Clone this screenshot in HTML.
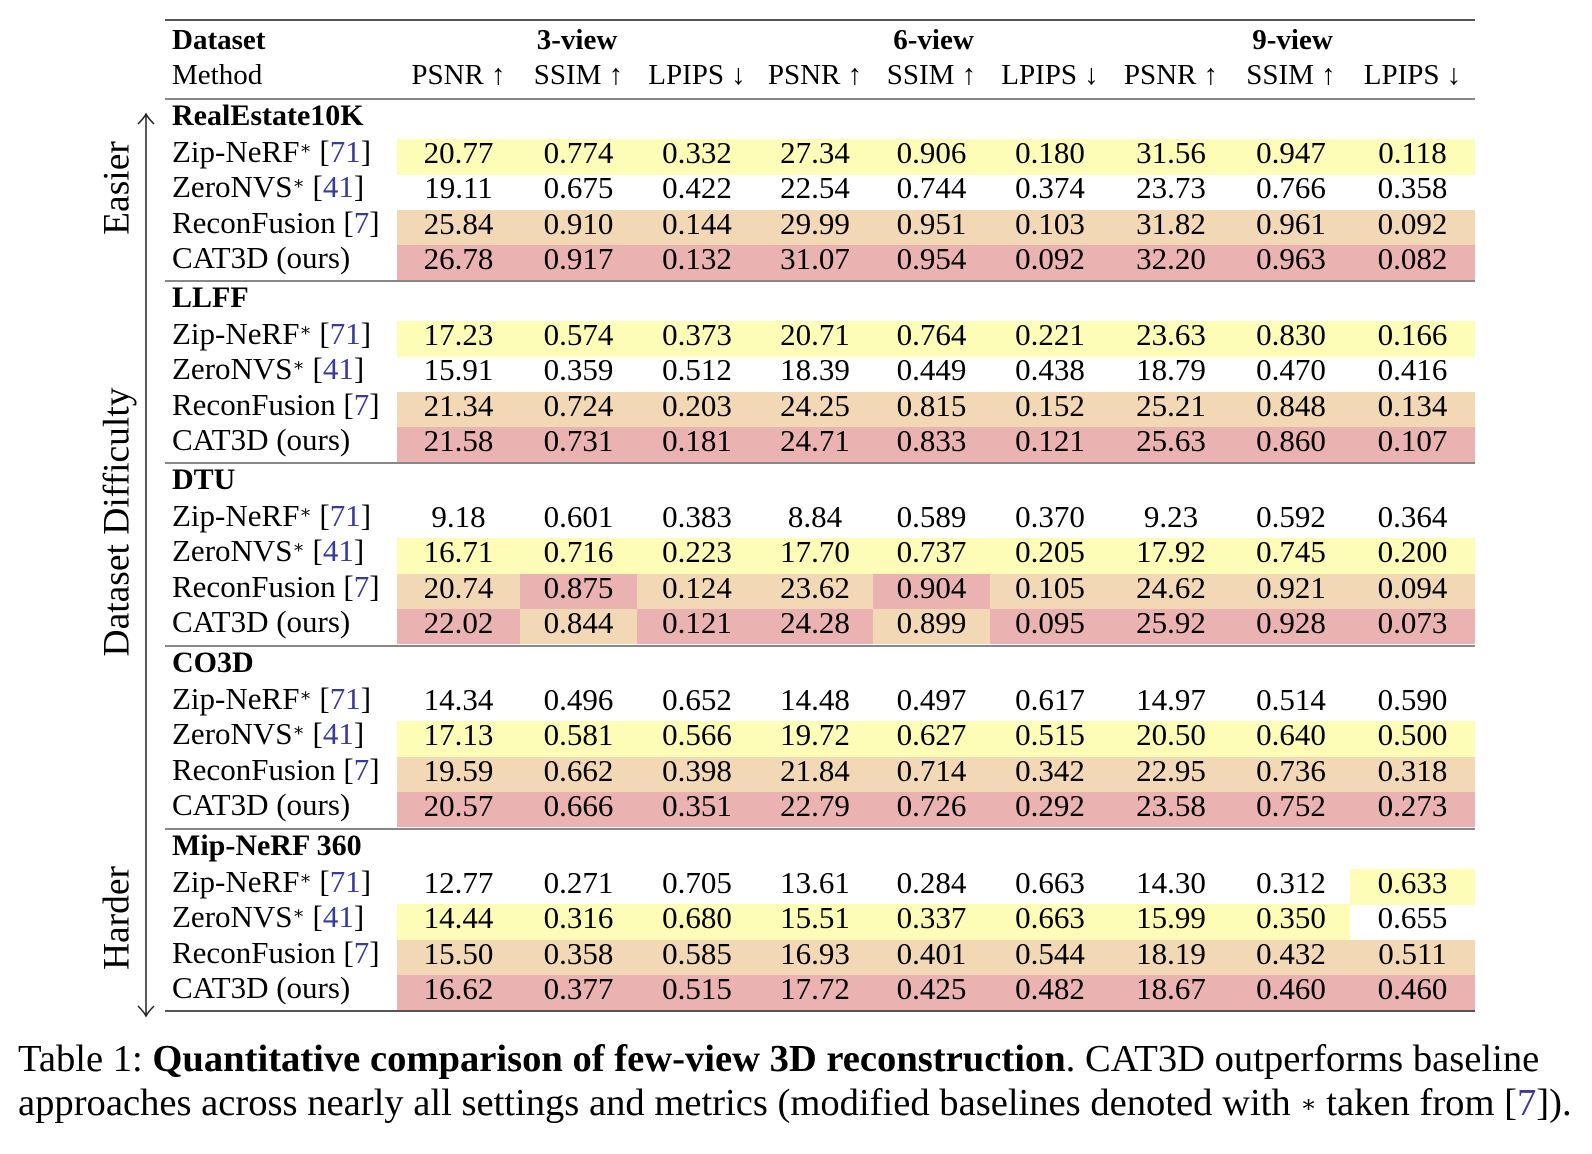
<!DOCTYPE html>
<html><head><meta charset="utf-8"><style>
body{margin:0;width:1592px;height:1154px;background:#fff;position:relative;overflow:hidden;font-family:"Liberation Serif","DejaVu Serif",serif;color:#000}
.a{position:absolute;white-space:nowrap}
.cell{position:absolute;text-align:center;font-size:31px}
.cell span{position:relative;top:-4px}
.lbl{position:absolute;left:172px;font-size:31px;white-space:nowrap}
.ref{color:#3a3a9a}
sup{font-size:18px;position:relative;top:-3px;vertical-align:top}
.rule{position:absolute;left:165px;width:1310px;background:#888;height:2px}
.vt{position:absolute;font-size:37.5px;transform:translate(-50%,-50%) rotate(-90deg);white-space:nowrap}
</style></head><body>
<div class="rule" style="top:19px;background:#555"></div>
<div class="a" style="left:172px;top:24px;font-size:29px;font-weight:bold">Dataset</div>
<div class="a" style="left:172px;top:59px;font-size:29px">Method</div>
<div id="tbl"></div>
<svg class="a" style="left:130px;top:108px" width="32" height="916">
<line x1="16" y1="6" x2="16" y2="908" stroke="#222" stroke-width="1.5"/>
<path d="M8 16 Q14 10 16 6 Q18 10 24 16" fill="none" stroke="#222" stroke-width="1.5"/>
<path d="M8 898 Q14 904 16 908 Q18 904 24 898" fill="none" stroke="#222" stroke-width="1.5"/>
</svg>
<div class="vt" style="left:117px;top:188px">Easier</div>
<div class="vt" style="left:117px;top:522px">Dataset Difficulty</div>
<div class="vt" style="left:117px;top:918px">Harder</div>
<div class="a" style="left:18px;top:1037px;font-size:38.6px;line-height:44px">Table 1: <b>Quantitative comparison of few-view 3D reconstruction</b>. CAT3D outperforms baseline<br>approaches across nearly all settings and metrics (modified baselines denoted with <sup style="font-size:24px;top:2px">∗</sup> taken from [<span class="ref">7</span>]).</div>
<script>
const views=["3-view","6-view","9-view"];
const metrics=["PSNR ↑","SSIM ↑","LPIPS ↓"];
const higherBetter=[true,true,false];
const datasets=["RealEstate10K","LLFF","DTU","CO3D","Mip-NeRF 360"];
const methods=["Zip-NeRF","ZeroNVS","ReconFusion","CAT3D (ours)"];
const realEstate=[[20.77,0.774,0.332,27.34,0.906,0.180,31.56,0.947,0.118],[19.11,0.675,0.422,22.54,0.744,0.374,23.73,0.766,0.358],[25.84,0.910,0.144,29.99,0.951,0.103,31.82,0.961,0.092],[26.78,0.917,0.132,31.07,0.954,0.092,32.20,0.963,0.082]];
const llff=[[17.23,0.574,0.373,20.71,0.764,0.221,23.63,0.830,0.166],[15.91,0.359,0.512,18.39,0.449,0.438,18.79,0.470,0.416],[21.34,0.724,0.203,24.25,0.815,0.152,25.21,0.848,0.134],[21.58,0.731,0.181,24.71,0.833,0.121,25.63,0.860,0.107]];
const dtu=[[9.18,0.601,0.383,8.84,0.589,0.370,9.23,0.592,0.364],[16.71,0.716,0.223,17.70,0.737,0.205,17.92,0.745,0.200],[20.74,0.875,0.124,23.62,0.904,0.105,24.62,0.921,0.094],[22.02,0.844,0.121,24.28,0.899,0.095,25.92,0.928,0.073]];
const co3d=[[14.34,0.496,0.652,14.48,0.497,0.617,14.97,0.514,0.590],[17.13,0.581,0.566,19.72,0.627,0.515,20.50,0.640,0.500],[19.59,0.662,0.398,21.84,0.714,0.342,22.95,0.736,0.318],[20.57,0.666,0.351,22.79,0.726,0.292,23.58,0.752,0.273]];
const mip360=[[12.77,0.271,0.705,13.61,0.284,0.663,14.30,0.312,0.633],[14.44,0.316,0.680,15.51,0.337,0.663,15.99,0.350,0.655],[15.50,0.358,0.585,16.93,0.401,0.544,18.19,0.432,0.511],[16.62,0.377,0.515,17.72,0.425,0.482,18.67,0.460,0.460]];
const tables=[realEstate,llff,dtu,co3d,mip360];
const colEdges=[397,520,637,757,873,990,1110,1232,1350,1475];
const rankColors=["#ebb2b2","#f3d8b6","#fdfdb8"];
const T=document.getElementById('tbl');
function add(html,cls,style){const d=document.createElement('div');d.className=cls;d.style.cssText=style;d.innerHTML=html;T.appendChild(d);return d;}
views.forEach((v,i)=>{
 const x0=colEdges[i*3],x1=colEdges[i*3+3];
 const d=add(v,'a',`left:${x0}px;width:${x1-x0}px;text-align:center;top:24px;font-size:29px;font-weight:bold`);
 
 
 metrics.forEach((m,j)=>{
  const c=i*3+j;
  const h=add(m,'a',`left:${colEdges[c]}px;width:${colEdges[c+1]-colEdges[c]}px;text-align:center;top:59px;font-size:29px`);
  
  
 });
});
const ruleYs=[98,280,462,645,828,1010];
const refs=['71','41','7',''];
ruleYs.forEach((y,i)=>{
 const r=add('','rule',`top:${y}px;${i==5?'background:#555':''}`);
 
 
});
datasets.forEach((ds,s)=>{
 const base=ruleYs[s];
 const h=add(ds,'lbl',`top:${base+1}px;font-weight:bold;font-size:30px`);
 
 
 const data=tables[s];
 const rank=data.map(()=>[]);
 for(let c=0;c<9;c++){
  const hb=higherBetter[c%3];
  const vals=data.map(r=>r[c]);
  const order=vals.map((v,i)=>i).sort((a,b)=>{const d=hb?vals[b]-vals[a]:vals[a]-vals[b];return d!==0?d:b-a;});
  order.forEach((ri,k)=>rank[ri][c]=k);
 }
 methods.forEach((m,r)=>{
  const top=base+41+r*35.25;
  let name=m;
  if(r<2) name=m+'<sup>∗</sup> [<span class="ref">'+refs[r]+'</span>]';
  else if(r==2) name=m+' [<span class="ref">7</span>]';
  const l=add(name,'lbl',`top:${top-5}px;line-height:35px`);
  
  
  for(let c=0;c<9;c++){
   const v=data[r][c];
   const txt=c%3==0?v.toFixed(2):v.toFixed(3);
   const bg=rank[r][c]<3?rankColors[rank[r][c]]:'transparent';
   const d=add('<span>'+txt+'</span>','cell',`left:${colEdges[c]}px;width:${colEdges[c+1]-colEdges[c]}px;top:${top}px;height:35.5px;line-height:35px;background:${bg}`);
   
   
  }
 });
});
</script>
</body></html>
